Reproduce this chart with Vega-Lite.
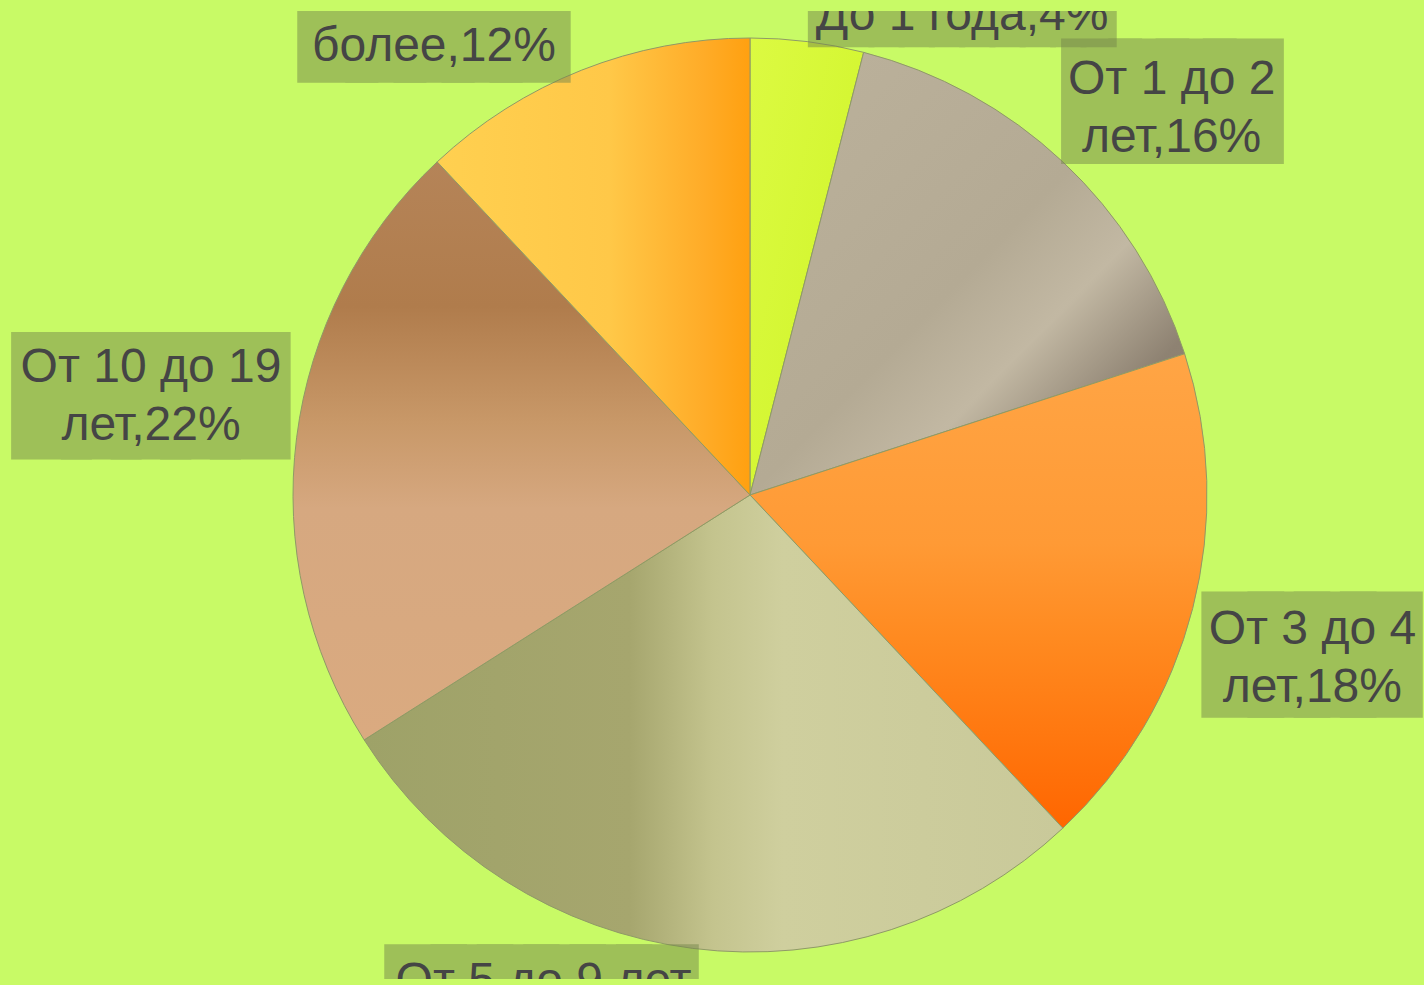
{
  "$schema": "https://vega.github.io/schema/vega-lite/v6.json",
  "width": 1348,
  "height": 968,
  "autosize": {"type": "none"},
  "padding": {"left": 76, "top": 11, "right": 0, "bottom": 6},
  "background": "#c8fa66",
  "config": {
    "view": {
      "stroke": null,
      "fill": {"gradient": "linear", "x1": 0, "y1": 0, "x2": 0, "y2": 1, "stops": [{"offset": 0, "color": "#cffc70"}, {"offset": 1, "color": "#b7f63e"}]}
    }
  },
  "data": {
    "values": [
      {"cat": "До 1 года", "value": 4, "idx": 1, "label": "До 1 года,4%"},
      {"cat": "От 1 до 2 лет", "value": 16, "idx": 2, "label": "От 1 до 2\nлет,16%"},
      {"cat": "От 3 до 4 лет", "value": 18, "idx": 3, "label": "От 3 до 4\nлет,18%"},
      {"cat": "От 5 до 9 лет", "value": 28, "idx": 4, "label": "От 5 до 9 лет,\n28%"},
      {"cat": "От 10 до 19 лет", "value": 22, "idx": 5, "label": "От 10 до 19\nлет,22%"},
      {"cat": "20 лет и более", "value": 12, "idx": 6, "label": "20 лет и\nболее,12%"}
    ]
  },
  "encoding": {
    "theta": {"field": "value", "type": "quantitative", "stack": true},
    "order": {"field": "idx", "type": "quantitative"}
  },
  "layer": [
    {
      "mark": {"type": "arc", "outerRadius": 457, "stroke": "#8f9a66", "strokeWidth": 1},
      "encoding": {
        "fill": {
          "condition": [
            {"test": "datum.idx == 1", "value": {"gradient": "linear", "x1": 0, "y1": 0, "x2": 1, "y2": 1, "stops": [{"offset": 0, "color": "#dcfa42"}, {"offset": 1, "color": "#cef426"}]}},
            {"test": "datum.idx == 2", "value": {"gradient": "linear", "x1": 0, "y1": 0, "x2": 1, "y2": 1, "stops": [{"offset": 0, "color": "#bcb29c"}, {"offset": 0.5, "color": "#b4aa94"}, {"offset": 0.65, "color": "#c2b8a3"}, {"offset": 0.82, "color": "#8e8272"}, {"offset": 1, "color": "#887c6c"}]}},
            {"test": "datum.idx == 3", "value": {"gradient": "linear", "x1": 0, "y1": 0, "x2": 0, "y2": 1, "stops": [{"offset": 0, "color": "#ffa545"}, {"offset": 0.4, "color": "#ff9a35"}, {"offset": 0.6, "color": "#ff8a20"}, {"offset": 1, "color": "#ff6600"}]}},
            {"test": "datum.idx == 4", "value": {"gradient": "linear", "x1": 0, "y1": 0, "x2": 1, "y2": 0, "stops": [{"offset": 0, "color": "#9ea268"}, {"offset": 0.38, "color": "#a6a66e"}, {"offset": 0.5, "color": "#c4c48e"}, {"offset": 0.6, "color": "#cfcf9e"}, {"offset": 1, "color": "#c9c99a"}]}},
            {"test": "datum.idx == 5", "value": {"gradient": "linear", "x1": 0, "y1": 0, "x2": 0, "y2": 1, "stops": [{"offset": 0, "color": "#b58458"}, {"offset": 0.25, "color": "#b07c4c"}, {"offset": 0.45, "color": "#c89868"}, {"offset": 0.6, "color": "#d6a880"}, {"offset": 1, "color": "#daaa80"}]}},
            {"test": "datum.idx == 6", "value": {"gradient": "linear", "x1": 0, "y1": 0, "x2": 1, "y2": 0, "stops": [{"offset": 0, "color": "#ffd050"}, {"offset": 0.55, "color": "#ffc848"}, {"offset": 0.85, "color": "#ffac28"}, {"offset": 1, "color": "#ffa010"}]}}
          ],
          "value": "#cccccc"
        }
      }
    },
    {
      "mark": {
        "type": "text", "radius": 570, "font": "DejaVu Sans Mono", "baseline": "middle", "align": "center", "clip": true,
        "color": "#76884c", "stroke": "#76884c", "strokeJoin": "miter", "opacity": 0.5,
        "text": {"expr": "datum.idx==1?'██████████':datum.idx==4?'██████':datum.idx==6?'█████':''"},
        "fontSize": {"expr": "datum.idx==1?50.3:datum.idx==4?77:79.9"},
        "strokeWidth": {"expr": "datum.idx==1?5.1:datum.idx==4?34.9:31.5"},
        "dx": {"expr": "datum.idx==1?140.6:datum.idx==4?-137.1:-106.2"},
        "dy": {"expr": "datum.idx==1?87.8:datum.idx==4?-49.5:57.7"}
      }
    },
    {
      "mark": {
        "type": "text", "radius": 570, "font": "DejaVu Sans Mono", "baseline": "middle", "align": "center",
        "color": "#76884c", "stroke": "#76884c", "strokeJoin": "miter", "opacity": 0.5,
        "text": {"expr": "datum.idx==2||datum.idx==3?'████':datum.idx==5?'█████':''"},
        "fontSize": {"expr": "datum.idx==2?78.4:datum.idx==3?76.7:82.6"},
        "strokeWidth": {"expr": "datum.idx==2?32.3:datum.idx==3?35.2:29.4"},
        "dx": {"expr": "datum.idx==2?32.3:datum.idx==3?9.9:-33.5"},
        "dy": {"expr": "datum.idx==2?24.1:datum.idx==3?21.2:-24.8"}
      }
    },
    {
      "mark": {
        "type": "text", "radius": 570, "font": "Liberation Sans", "fontSize": 48, "lineHeight": 58, "lineBreak": "\n",
        "baseline": "middle", "align": "center", "color": "#454545", "clip": true,
        "dx": {"expr": "datum.idx==1?140.6:datum.idx==4?-131:-106.2"},
        "dy": {"expr": "datum.idx==1?86.3:datum.idx==4?-78.7:24.3"}
      },
      "encoding": {"text": {"condition": {"test": "datum.idx==1||datum.idx==4||datum.idx==6", "field": "label"}, "value": ""}}
    },
    {
      "mark": {
        "type": "text", "radius": 570, "font": "Liberation Sans", "fontSize": 48, "lineHeight": 58, "lineBreak": "\n",
        "baseline": "middle", "align": "center", "color": "#454545",
        "dx": {"expr": "datum.idx==2?31.5:datum.idx==3?10.3:-33.5"},
        "dy": {"expr": "datum.idx==2?0.8:datum.idx==3?-6.5:-55.3"}
      },
      "encoding": {"text": {"condition": {"test": "datum.idx==2||datum.idx==3||datum.idx==5", "field": "label"}, "value": ""}}
    }
  ]
}
